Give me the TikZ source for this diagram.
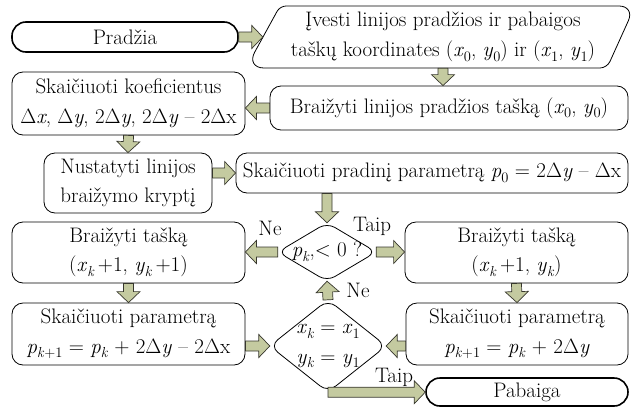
\documentclass[tikz,border=0pt]{standalone}
\usetikzlibrary{calc}
\definecolor{arrfill}{RGB}{196,202,160}
\definecolor{arrline}{RGB}{55,55,45}
\newcommand{\sbs}[1]{\raisebox{-0.22em}{\fontsize{14.5}{14.5}\selectfont #1}}
\newcommand{\iv}[1]{\textit{#1}}
\newcommand{\Dl}{\ensuremath{\Delta}}
\newcommand{\blkarrow}[2]{%
  \path (#1) coordinate (bkS) (#2) coordinate (bkE);
  \path ($(bkE)!11pt!(bkS)$) coordinate (bkC);
  \draw[blk] ($(bkS)!5pt!90:(bkE)$) -- ($(bkC)!5pt!90:(bkE)$) -- ($(bkC)!11.5pt!90:(bkE)$)
    -- (bkE) -- ($(bkC)!11.5pt!-90:(bkE)$) -- ($(bkC)!5pt!-90:(bkE)$) -- ($(bkS)!5pt!-90:(bkE)$) -- cycle;
}
\begin{document}
\begin{tikzpicture}[x=1pt,y=-1pt,font=\fontsize{21}{29.5}\selectfont,
  box/.style={draw, rounded corners=11pt, line width=0.8pt, align=center, inner sep=0pt},
  term/.style={draw, rounded corners=14pt, line width=1.6pt, align=center, inner sep=0pt},
  plain/.style={inner sep=0pt, align=center},
  blk/.style={draw=arrline, fill=arrfill, line width=0.7pt, line join=miter},
  lbl/.style={inner sep=0pt}]
\useasboundingbox (0,0) rectangle (636,410);

% terminals
\node[term, minimum width=226pt, minimum height=30pt] (start) at (125,37) {Pradžia};
\node[term, minimum width=202pt, minimum height=28pt] (pab) at (527,392) {Pabaiga};

% input parallelogram
\draw[line width=0.8pt] (450,6) [rounded corners=16pt] -- (635,6) [rounded corners=7pt] -- (607,68)
  [rounded corners=18pt] -- (246,68) [rounded corners=6pt] -- (280,6) [sharp corners] -- cycle;
\node[plain, minimum width=360pt, minimum height=62pt] (inp) at (443,37)
  {Įvesti linijos pradžios ir pabaigos\\taškų koordinates (\iv{x}\sbs{0}, \iv{y}\sbs{0}) ir (\iv{x}\sbs{1}, \iv{y}\sbs{1})};

% process boxes
\node[box, minimum width=358pt, minimum height=44pt] (b2) at (449,108)
  {Braižyti linijos pradžios tašką (\iv{x}\sbs{0}, \iv{y}\sbs{0})};
\node[box, minimum width=233pt, minimum height=63pt] (b3) at (128.5,103.5)
  {Skaičiuoti koeficientus\\\Dl\iv{x}, \Dl\iv{y}, 2\Dl\iv{y}, 2\Dl\iv{y} – 2\Dl x};
\node[box, minimum width=168pt, minimum height=60pt] (b4) at (128,183)
  {Nustatyti linijos\\braižymo kryptį};
\node[box, minimum width=392pt, minimum height=40pt] (b5) at (432,173)
  {Skaičiuoti pradinį parametrą \iv{p}\sbs{0} = 2\Dl\iv{y} – \Dl x};
\node[box, minimum width=233pt, minimum height=61pt] (b6) at (128.5,252.5)
  {Braižyti tašką\\(\iv{x}\sbs{\iv{k}}\,+1, \iv{y}\sbs{\iv{k}}\,+1)};
\node[box, minimum width=223pt, minimum height=61pt] (b7) at (516.5,252.5)
  {Braižyti tašką\\(\iv{x}\sbs{\iv{k}}\,+1, \iv{y}\sbs{\iv{k}})};
\node[box, minimum width=233pt, minimum height=62pt] (b8) at (128.5,334)
  {Skaičiuoti parametrą\\\iv{p}\sbs{\iv{k}+1} = \iv{p}\sbs{\iv{k}} + 2\Dl\iv{y} – 2\Dl x};
\node[box, minimum width=222pt, minimum height=62pt] (b9) at (517,334)
  {Skaičiuoti parametrą\\\iv{p}\sbs{\iv{k}+1} = \iv{p}\sbs{\iv{k}} + 2\Dl\iv{y}};

% decisions
\node[plain, minimum width=98pt, minimum height=58pt] (d1) at (327,252) {\iv{p}\sbs{\iv{k}},< 0 ?};
\draw[line width=0.8pt] ($(d1.north)!0.5!(d1.east)$) [rounded corners=9pt] -- (d1.east) -- (d1.south) -- (d1.west) -- (d1.north) [sharp corners] -- cycle;
\node[plain, minimum width=116pt, minimum height=92pt] (d2) at (328,346)
  {\iv{x}\sbs{\iv{k}} = \iv{x}\sbs{1}\\\iv{y}\sbs{\iv{k}} = \iv{y}\sbs{1}};
\draw[line width=0.8pt] ($(d2.north)!0.5!(d2.east)$) [rounded corners=10pt] -- (d2.east) -- (d2.south) -- (d2.west) -- (d2.north) [sharp corners] -- cycle;

% labels
\node[lbl] (lne1) at (270,228) {Ne};
\node[lbl] (lta1) at (372,226) {Taip};
\node[lbl] (lne2) at (358,290) {Ne};
\node[lbl] (lta2) at (394,377) {Taip};

% block arrows
\blkarrow{start.east}{inp.west}
\blkarrow{inp.south}{inp.south |- b2.north}
\blkarrow{b2.west}{b2.west -| b3.east}
\blkarrow{b3.south}{b4.north}
\blkarrow{b5.west -| b4.east}{b5.west}
\blkarrow{d1.north |- b5.south}{d1.north}
\blkarrow{d1.west}{d1.west -| b6.east}
\blkarrow{d1.east}{d1.east -| b7.west}
\blkarrow{b6.south}{b8.north}
\blkarrow{b7.south}{b9.north}
\blkarrow{d2.north}{d1.south}
\blkarrow{d2.west -| b8.east}{d2.west}
\blkarrow{d2.east -| b9.west}{d2.east}
\blkarrow{d2.south}{d2.south -| pab.west}
\end{tikzpicture}
\end{document}
